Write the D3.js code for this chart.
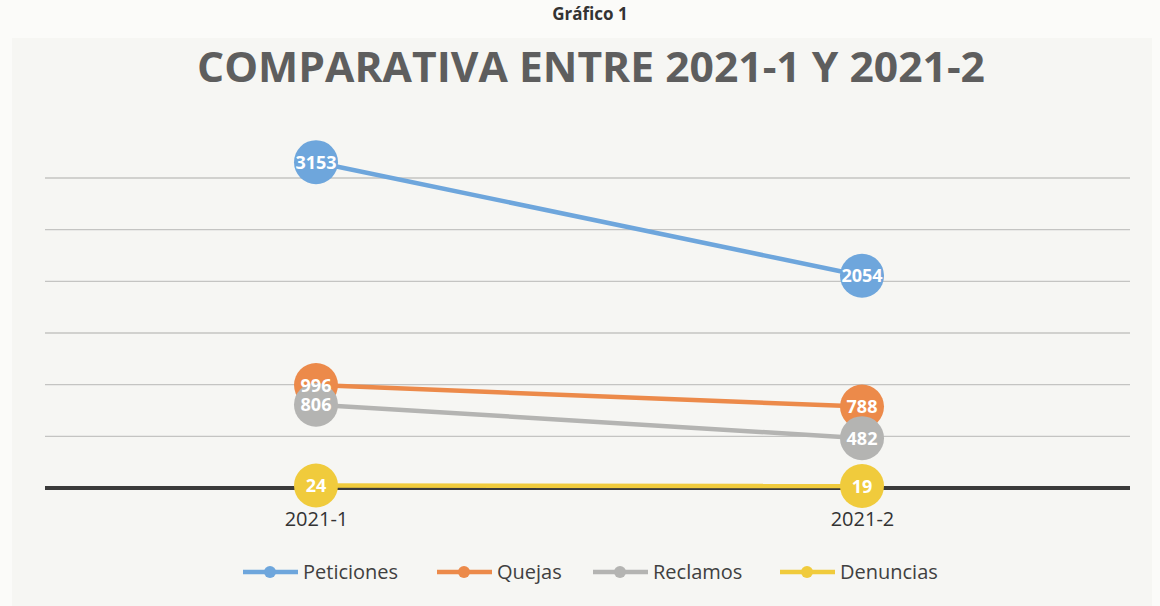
<!DOCTYPE html>
<html>
<head>
<meta charset="utf-8">
<script src="https://cdn.jsdelivr.net/npm/d3@7"></script>
<style>
  body { margin: 0; background: #fbfbf9; }
  svg { display: block; }
</style>
</head>
<body>
<svg id="canvas" width="1160" height="606"></svg>
<script>
// data
var categories = ["2021-1", "2021-2"];
var seriesNames = ["Peticiones", "Quejas", "Reclamos", "Denuncias"];
var peticiones = [3153, 2054];
var quejas = [996, 788];
var reclamos = [806, 482];
var denuncias = [24, 19];
var gridTicks = [0, 500, 1000, 1500, 2000, 2500, 3000];

var colors = ["#6ea6dc", "#ec8a4a", "#b4b4b2", "#f0cb3c"];
var allValues = [peticiones, quejas, reclamos, denuncias];

var svg = d3.select("#canvas");
var FONT = "'Liberation Sans Narrow', 'Open Sans', sans-serif";

// page + chart frame
svg.append("text")
    .attr("x", 590).attr("y", 20)
    .attr("text-anchor", "middle")
    .style("font-family", FONT).style("font-size", "17px").style("font-weight", "bold")
    .attr("fill", "#333")
    .text("Gráfico 1");
svg.append("rect")
    .attr("x", 12).attr("y", 38).attr("width", 1140).attr("height", 570)
    .attr("fill", "#f6f6f3");

// title
svg.append("text")
    .attr("x", 591).attr("y", 82)
    .attr("text-anchor", "middle")
    .attr("textLength", 788).attr("lengthAdjust", "spacingAndGlyphs")
    .style("font-family", FONT).style("font-size", "42px").style("font-weight", "bold")
    .attr("fill", "#5e5e5e")
    .text("COMPARATIVA ENTRE 2021-1 Y 2021-2");

// scales
var x = d3.scalePoint().domain(categories).range([316, 862]);
var y = d3.scaleLinear().domain([0, 3000]).range([488, 178]);

// gridlines
svg.append("g").selectAll("line")
    .data(gridTicks.slice(1))
    .enter().append("line")
    .attr("x1", 45).attr("x2", 1130)
    .attr("y1", function(d){ return y(d); })
    .attr("y2", function(d){ return y(d); })
    .attr("stroke", "#c4c4c2").attr("stroke-width", 1.3);

// category axis
var xAxis = svg.append("g")
    .attr("transform", "translate(0," + y(0) + ")")
    .call(d3.axisBottom(x).tickSize(0).tickPadding(24));
xAxis.select(".domain").remove();
xAxis.append("line")
    .attr("x1", 45).attr("x2", 1130)
    .attr("stroke", "#3a3a3a").attr("stroke-width", 4);
xAxis.selectAll("text")
    .style("font-family", FONT).style("font-size", "20px")
    .attr("fill", "#333");

// series lines
var line = d3.line()
    .x(function(d, i){ return x(categories[i]); })
    .y(function(d){ return y(d); });

for (var s = 0; s < allValues.length; s++){
    svg.append("path")
        .attr("d", line(allValues[s]))
        .attr("fill", "none")
        .attr("stroke", colors[s]).attr("stroke-width", 4.5);
}
// markers
for (s = 0; s < allValues.length; s++){
    svg.append("g").selectAll("circle")
        .data(allValues[s]).enter().append("circle")
        .attr("cx", function(d, i){ return x(categories[i]); })
        .attr("cy", function(d){ return y(d); })
        .attr("r", 22)
        .attr("fill", colors[s]);
}
// data labels on top of all markers
for (s = 0; s < allValues.length; s++){
    svg.append("g").selectAll("text")
        .data(allValues[s]).enter().append("text")
        .attr("x", function(d, i){ return x(categories[i]); })
        .attr("y", function(d){ return y(d); })
        .attr("dy", "0.36em")
        .attr("text-anchor", "middle")
        .style("font-family", FONT).style("font-size", "18px").style("font-weight", "bold")
        .attr("fill", "#fff")
        .text(function(d){ return d; });
}

// legend
var legendX = [243, 437, 593, 780];
var legend = svg.append("g");
for (s = 0; s < seriesNames.length; s++){
    var lg = legend.append("g").attr("transform", "translate(" + legendX[s] + ",572)");
    lg.append("line").attr("x1", 0).attr("x2", 55)
        .attr("stroke", colors[s]).attr("stroke-width", 4.5);
    lg.append("circle").attr("cx", 27).attr("cy", 0).attr("r", 6).attr("fill", colors[s]);
    lg.append("text").attr("x", 60).attr("dy", "0.35em")
        .style("font-family", FONT).style("font-size", "20px")
        .attr("fill", "#404040")
        .text(seriesNames[s]);
}
</script>
</body>
</html>
